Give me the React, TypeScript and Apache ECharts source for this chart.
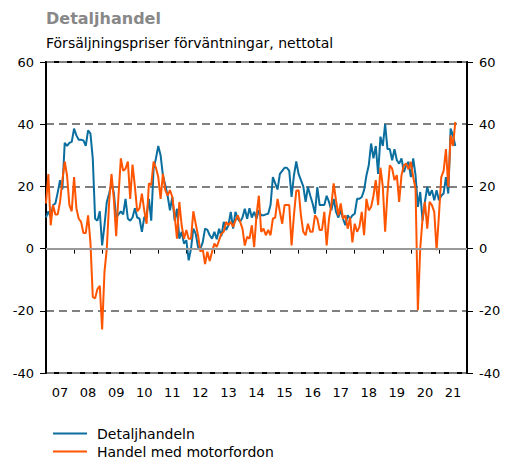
import React, { useEffect, useRef } from "react";
import * as echarts from "echarts";

// Monthly values, Jan 2007 onward
const startYear = 2007;
const yearLabels = ["07", "08", "09", "10", "11", "12", "13", "14", "15", "16", "17", "18", "19", "20", "21"];
const yTicks = { min: -40, max: 60, interval: 20 };

const detaljhandeln = [
  // 2007
  10, 12, 10, 14, 14.5, 18, 22, 19, 34, 33, 34, 34.3,
  // 2008
  38.6, 36.4, 35, 35, 34.8, 33, 38, 37, 29, 9.6, 9, 12,
  // 2009
  1, 7.5, 15, 17.7, 21, 18, 10, 11, 12, 11, 16, 9.6,
  // 2010
  9, 10, 13, 10, 9.6, 5.4, 10, 10.7, 16, 9, 25.7, 29,
  // 2011
  33, 30, 23.5, 20.4, 17, 12.3, 16.6, 9, 12.8, 3.2, 5.4, 1.6,
  // 2012
  2.7, -3.8, 0, 6.4, 4.8, 0.5, 0, 2, 6.4, 6, 4.3, 3.2,
  // 2013
  5.4, 3, 6.4, 4, 8.6, 6, 7.5, 11.8, 6.4, 11.8, 9.6, 8.6,
  // 2014
  10, 12.8, 9.6, 13, 10, 11.8, 9.6, 12.3, 10.7, 10.7, 11, 11.2,
  // 2015
  14, 23, 21, 19, 24, 25, 26, 26, 25, 16.6, 23.5, 28,
  // 2016
  24, 22, 20, 15, 19.8, 17, 14.5, 11.2, 19.8, 14, 14, 14,
  // 2017
  17, 15, 12.3, 16, 11.8, 10, 12.3, 9.6, 7.5, 10.7, 9.6, 10.7,
  // 2018
  11.2, 16, 16, 16.6, 18.8, 23.5, 26.8, 33.8, 29, 33, 24, 36,
  // 2019
  33, 40, 32, 32, 28.4, 32, 28.4, 27.3, 29, 24.6, 26.8, 27.9,
  // 2020
  23, 29, 23.6, 13.4, 18.2, 9, 15, 19.8, 17, 18.8, 15.5, 18.8,
  // 2021
  15.5, 17, 17.7, 23, 17.7, 38.6, 36.4, 33,
];

const motorfordon = [
  // 2007
  14.5, 24, 7.5, 14, 11, 11, 15, 22, 28, 23.5, 14, 12,
  // 2008
  23, 13, 9.6, 8.6, 5, 5, 10.7, 2, -15.5, -16, -13, -12,
  // 2009
  -26, -7.5, 0, 15, 24, 16, 4, 17, 29, 25, 25.7, 28,
  // 2010
  16, 27, 20, 12, 13, 17.7, 12.3, 8, 21, 20.4, 28, 26,
  // 2011
  23, 16, 24, 18.8, 17, 18.8, 16.6, 10.7, 3.2, 15, 7.5, 3.2,
  // 2012
  6, 3.2, 3.2, 12, 8, 4.3, -1, 0, -5, -1, -4, -1,
  // 2013
  1.6, 0.5, 2.7, 4.8, 5.4, 8.6, 7.5, 8.6, 7, 9, 10.7, 8.6,
  // 2014
  6.4, 1, 3.8, 3.2, 7.5, 0.5, 10.7, 17, 5.4, 6.4, 4.3, 6,
  // 2015
  4.3, 9.6, 10, 16, 11.8, 8, 14, 14, 14, 1, 10.7, 18.6,
  // 2016
  18.8, 10.7, 5.4, 4.3, 8, 5.4, 5.4, 10.7, 9.6, 6, 6, 11.8,
  // 2017
  1, 9.6, 14, 21, 15.5, 10.7, 14.5, 9.6, 10.7, 6.4, 10, 2,
  // 2018
  8, 5.4, 7, 11.8, 4.3, 16, 12.3, 13.4, 17, 22, 14, 26,
  // 2019
  20, 5.4, 18, 26.8, 25.7, 22, 23.6, 15, 23.6, 26.8, 27.3, 25.5,
  // 2020
  27.9, 23, 19.3, -19.8, 0, 9.6, 15, 6.4, 15, 14, 11.8, -0.5,
  // 2021
  10.7, 23, 25, 32, 19.8, 36.4, 33, 40.7,
];

const FONT = "DejaVu Sans";
const BLUE = "#0a6e9f";
const ORANGE = "#ff5500";

export default function App() {
  const ref = useRef<HTMLDivElement>(null);
  useEffect(() => {
    if (!ref.current) return;
    const chart = echarts.init(ref.current, undefined, { renderer: "svg" });
    const months = yearLabels.length * 12;
    const toPairs = (arr: number[]) => arr.map((v, i) => [i, v]);
    const yAxisBase = {
      type: "value",
      min: yTicks.min,
      max: yTicks.max,
      interval: yTicks.interval,
      axisLine: { show: true, lineStyle: { color: "#000", width: 2 } },
      axisTick: { show: true, inside: false, length: 6, lineStyle: { color: "#000", width: 1 } },
      axisLabel: { color: "#000", fontFamily: FONT, fontSize: 13, margin: 12 },
    };
    chart.setOption({
      animation: false,
      title: [
        {
          text: "Detaljhandel",
          left: 46,
          top: 10,
          padding: 0,
          textStyle: { fontFamily: FONT, fontSize: 16, fontWeight: "bold", color: "#888" },
        },
        {
          text: "Försäljningspriser förväntningar, nettotal",
          left: 46,
          top: 36,
          padding: 0,
          textStyle: { fontFamily: FONT, fontSize: 14, fontWeight: "normal", color: "#000" },
        },
      ],
      grid: {
        left: 46,
        right: 39,
        top: 62,
        bottom: 86,
        show: true,
        borderColor: "#000",
        borderWidth: 2,
        backgroundColor: "transparent",
      },
      legend: {
        orient: "vertical",
        left: 53,
        top: 426,
        padding: 0,
        itemWidth: 34,
        itemHeight: 2,
        itemGap: 3,
        textStyle: { fontFamily: FONT, fontSize: 14, color: "#000", lineHeight: 15, padding: [0, 0, 0, 5] },
        data: [
          { name: "Detaljhandeln", icon: "rect", itemStyle: { color: BLUE } },
          { name: "Handel med motorfordon", icon: "rect", itemStyle: { color: ORANGE } },
        ],
      },
      xAxis: [
        {
          type: "category",
          data: yearLabels,
          boundaryGap: true,
          position: "bottom",
          axisLine: { show: true, lineStyle: { color: "#000", width: 2 } },
          axisTick: { show: true, interval: 0, length: 5, lineStyle: { color: "#000", width: 1 } },
          axisLabel: { color: "#000", fontFamily: FONT, fontSize: 13, margin: 13, interval: 0 },
          splitLine: { show: false },
        },
        {
          type: "value",
          min: 0,
          max: months,
          show: false,
          splitLine: { show: false },
        },
      ],
      yAxis: [
        {
          ...yAxisBase,
          position: "left",
          splitLine: { show: true, lineStyle: { color: "#808080", width: 2, type: [8, 5] } },
        },
        {
          ...yAxisBase,
          position: "right",
          splitLine: { show: false },
        },
      ],
      series: [
        {
          type: "line",
          name: "zero",
          xAxisIndex: 1,
          yAxisIndex: 0,
          data: [],
          z: 1,
          silent: true,
          markLine: {
            silent: true,
            symbol: "none",
            label: { show: false },
            lineStyle: { color: "#999", width: 2, type: "solid" },
            data: [{ yAxis: 0 }],
          },
        },
        {
          type: "line",
          name: "Detaljhandeln",
          xAxisIndex: 1,
          yAxisIndex: 0,
          data: toPairs(detaljhandeln),
          symbol: "none",
          z: 3,
          lineStyle: { color: BLUE, width: 2 },
          itemStyle: { color: BLUE },
        },
        {
          type: "line",
          name: "Handel med motorfordon",
          xAxisIndex: 1,
          yAxisIndex: 0,
          data: toPairs(motorfordon),
          symbol: "none",
          z: 4,
          lineStyle: { color: ORANGE, width: 2 },
          itemStyle: { color: ORANGE },
        },
      ],
    });
    return () => chart.dispose();
  }, []);
  return <div ref={ref} style={{ width: 506, height: 459, position: "absolute", left: 0, top: 0 }} />;
}
